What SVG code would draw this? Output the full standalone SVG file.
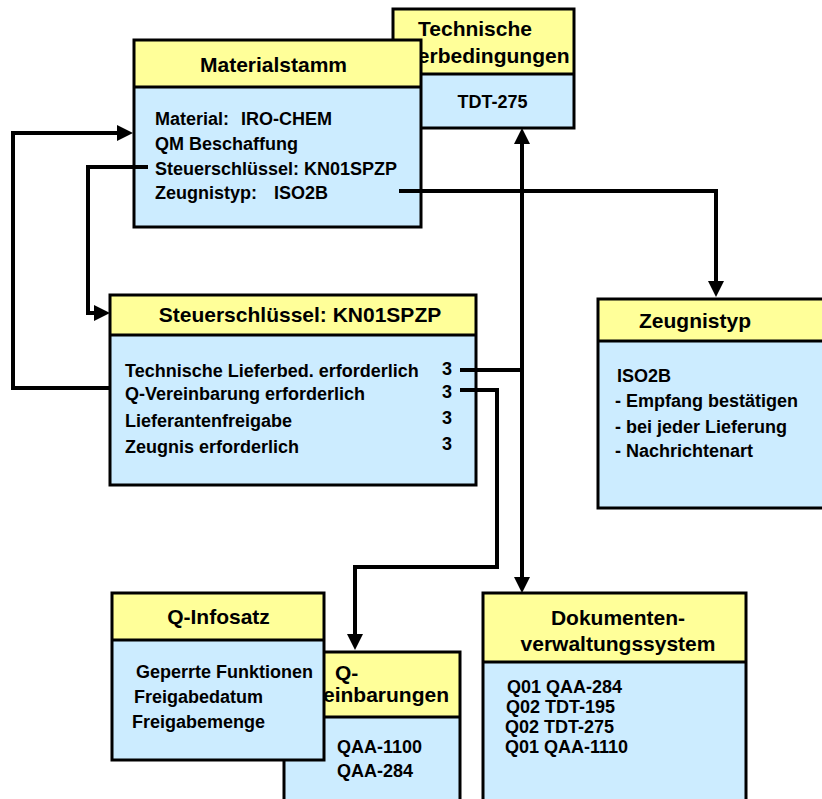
<svg xmlns="http://www.w3.org/2000/svg" width="822" height="799" viewBox="0 0 822 799">
<style>
text{font-family:"Liberation Sans",Arial,sans-serif;font-weight:bold;fill:#000}
.t{font-size:21px}
.b{font-size:18px}
.m{text-anchor:middle}
.e{text-anchor:end}
.body{fill:#CCECFF}
.head{fill:#FFFF99}
.frame{fill:none;stroke:#000;stroke-width:3}
.div{stroke:#000;stroke-width:3}
.c{fill:none;stroke:#000;stroke-width:4}
</style>
<defs>
<marker id="arr" viewBox="0 0 16 16" refX="2" refY="8" markerWidth="16" markerHeight="16" markerUnits="userSpaceOnUse" orient="auto">
<path d="M0,0 L16,8 L0,16 z" fill="#000"/>
</marker>
</defs>
<rect width="822" height="799" fill="#fff"/>

<g id="technische">
<rect class="body" x="393" y="9" width="181" height="119"/>
<rect class="head" x="393" y="9" width="181" height="65"/>
<line class="div" x1="393" y1="74" x2="574" y2="74"/>
<rect class="frame" x="393" y="9" width="181" height="119"/>
<text class="t m" x="475" y="36">Technische</text>
<text class="t m" x="475" y="63">Lieferbedingungen</text>
<text class="b m" x="492.5" y="108">TDT-275</text>
</g>

<g id="materialstamm">
<rect class="body" x="134" y="40" width="287" height="187"/>
<rect class="head" x="134" y="40" width="287" height="47"/>
<line class="div" x1="134" y1="87" x2="421" y2="87"/>
<rect class="frame" x="134" y="40" width="287" height="187"/>
<text class="t m" x="273.5" y="72">Materialstamm</text>
<text class="b" x="155" y="125">Material:<tspan x="241">IRO-CHEM</tspan></text>
<text class="b" x="155" y="150">QM Beschaffung</text>
<text class="b" x="155" y="175">Steuerschlüssel: KN01SPZP</text>
<text class="b" x="155" y="199">Zeugnistyp:<tspan x="274">ISO2B</tspan></text>
</g>

<g id="steuerschluessel">
<rect class="body" x="110" y="295" width="366" height="190"/>
<rect class="head" x="110" y="295" width="366" height="40"/>
<line class="div" x1="110" y1="335" x2="476" y2="335"/>
<rect class="frame" x="110" y="295" width="366" height="190"/>
<text class="t m" x="300" y="322">Steuerschlüssel: KN01SPZP</text>
<text class="b" x="125" y="377">Technische Lieferbed. erforderlich</text>
<text class="b" x="125" y="400">Q-Vereinbarung erforderlich</text>
<text class="b" x="125" y="427">Lieferantenfreigabe</text>
<text class="b" x="125" y="453">Zeugnis erforderlich</text>
<text class="b" x="442" y="375">3</text>
<text class="b" x="442" y="398">3</text>
<text class="b" x="442" y="424">3</text>
<text class="b" x="442" y="450">3</text>
</g>

<g id="zeugnistyp">
<rect class="body" x="598" y="299" width="240" height="209"/>
<rect class="head" x="598" y="299" width="240" height="42"/>
<line class="div" x1="598" y1="341" x2="838" y2="341"/>
<rect class="frame" x="598" y="299" width="240" height="209"/>
<text class="t" x="639" y="328">Zeugnistyp</text>
<text class="b" x="617" y="382">ISO2B</text>
<text class="b" x="615" y="407">- Empfang bestätigen</text>
<text class="b" x="615" y="433">- bei jeder Lieferung</text>
<text class="b" x="615" y="457">- Nachrichtenart</text>
</g>

<g id="q-vereinbarungen">
<rect class="body" x="284" y="652" width="176" height="160"/>
<rect class="head" x="284" y="652" width="176" height="65"/>
<line class="div" x1="284" y1="717" x2="460" y2="717"/>
<rect class="frame" x="284" y="652" width="176" height="160"/>
<text class="t" x="335" y="680">Q-</text>
<text class="t e" x="449" y="702">Vereinbarungen</text>
<text class="b" x="337" y="753">QAA-1100</text>
<text class="b" x="337" y="777">QAA-284</text>
</g>

<g id="q-infosatz">
<rect class="body" x="112" y="593" width="212" height="167"/>
<rect class="head" x="112" y="593" width="212" height="47"/>
<line class="div" x1="112" y1="640" x2="324" y2="640"/>
<rect class="frame" x="112" y="593" width="212" height="167"/>
<text class="t m" x="218.5" y="624">Q-Infosatz</text>
<text class="b" x="136" y="678">Geperrte Funktionen</text>
<text class="b" x="134" y="703">Freigabedatum</text>
<text class="b" x="132" y="728">Freigabemenge</text>
</g>

<g id="dokumenten">
<rect class="body" x="483" y="593" width="263" height="220"/>
<rect class="head" x="483" y="593" width="263" height="69"/>
<line class="div" x1="483" y1="662" x2="746" y2="662"/>
<rect class="frame" x="483" y="593" width="263" height="220"/>
<text class="t m" x="618" y="625">Dokumenten-</text>
<text class="t m" x="618" y="651">verwaltungssystem</text>
<text class="b" x="507" y="693">Q01 QAA-284</text>
<text class="b" x="506" y="713">Q02 TDT-195</text>
<text class="b" x="505" y="733">Q02 TDT-275</text>
<text class="b" x="505" y="753">Q01 QAA-1110</text>
</g>

<g id="connectors">
<path class="c" d="M110,388 H13 V133 H119" marker-end="url(#arr)"/>
<path class="c" d="M148,167 H88 V313 H96" marker-end="url(#arr)"/>
<path class="c" d="M399,191 H716 V283" marker-end="url(#arr)"/>
<path class="c" d="M460,370 H522"/>
<path class="c" d="M522,372 V142" marker-end="url(#arr)"/>
<path class="c" d="M522,368 V579" marker-end="url(#arr)"/>
<path class="c" d="M460,390 H497 V567 H355 V636" marker-end="url(#arr)"/>
</g>
</svg>
